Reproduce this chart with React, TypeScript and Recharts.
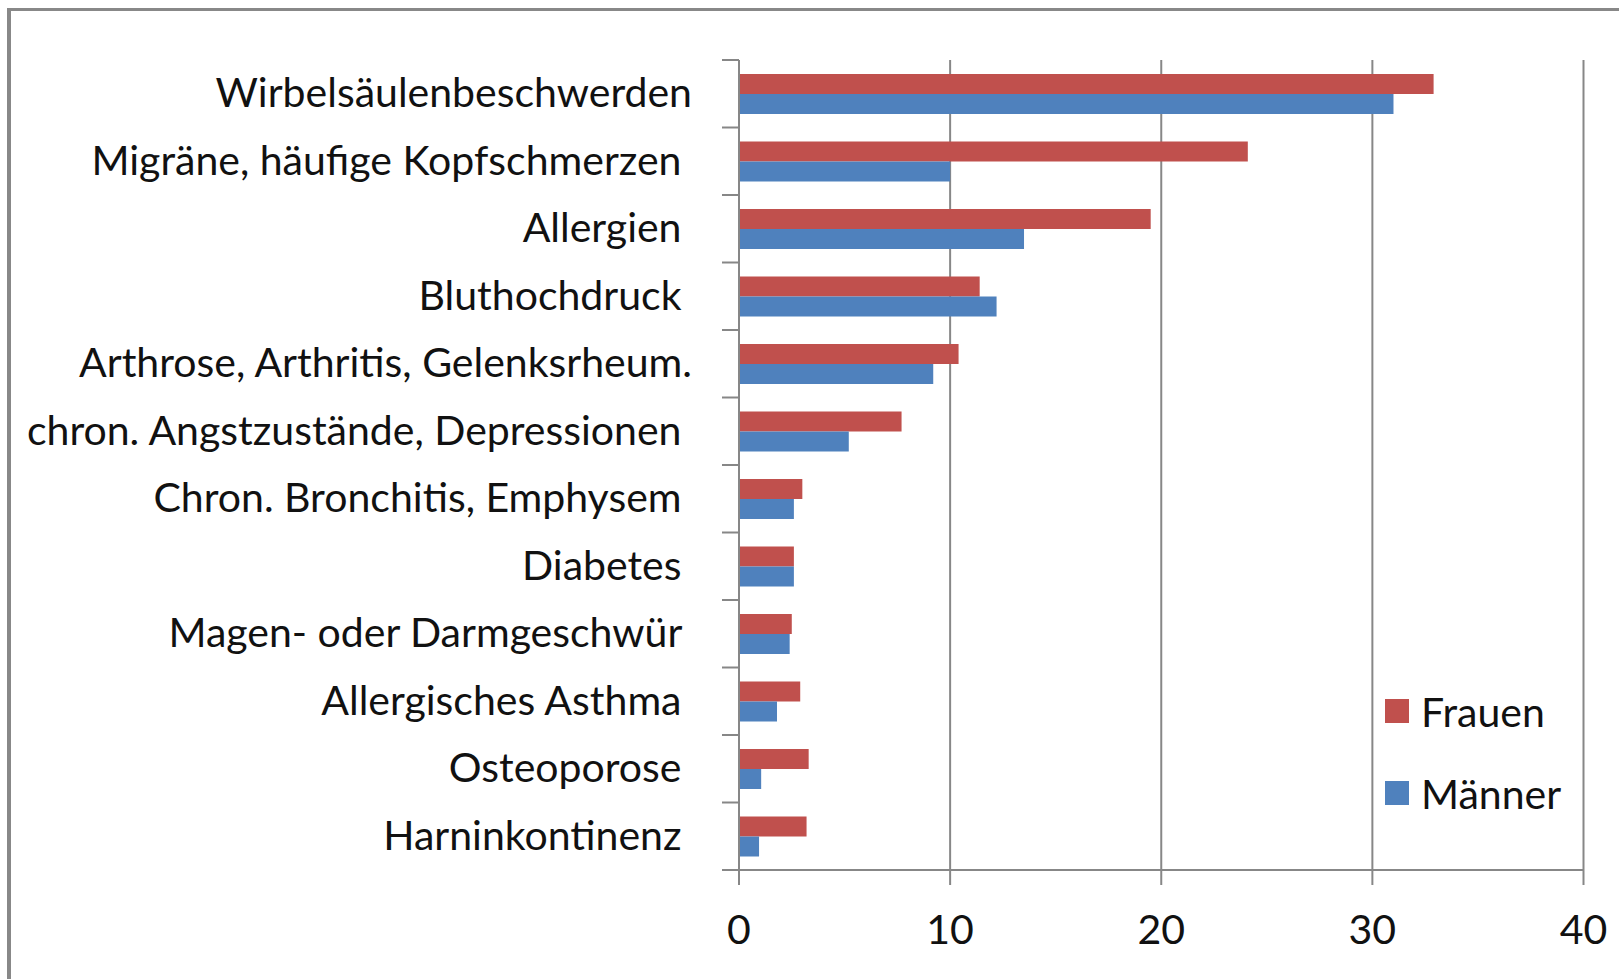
import { BarChart, Bar, XAxis, YAxis, CartesianGrid, Legend } from "recharts";

// trailing spaces are part of the original category labels
const categories = [
  "Wirbelsäulenbeschwerden",
  "Migräne, häufige Kopfschmerzen ",
  "Allergien ",
  "Bluthochdruck ",
  "Arthrose, Arthritis, Gelenksrheum.",
  "chron. Angstzustände, Depressionen ",
  "Chron. Bronchitis, Emphysem ",
  "Diabetes ",
  "Magen- oder Darmgeschwür ",
  "Allergisches Asthma ",
  "Osteoporose ",
  "Harninkontinenz ",
];
const frauen = [32.9, 24.1, 19.5, 11.4, 10.4, 7.7, 3.0, 2.6, 2.5, 2.9, 3.3, 3.2];
const maenner = [31.0, 10.0, 13.5, 12.2, 9.2, 5.2, 2.6, 2.6, 2.4, 1.8, 1.05, 0.95];
const xTicks = [0, 10, 20, 30, 40];

const data = categories.map((name, i) => ({
  name,
  Frauen: frauen[i],
  Männer: maenner[i],
}));

const W = 1619;
const H = 979;
const PLOT_TOP = 60;
const PLOT_BOTTOM = 870;
const PLOT_LEFT = 739;
const PLOT_RIGHT = 1583.5;
const BAND = (PLOT_BOTTOM - PLOT_TOP) / categories.length;
const GRID = "#878787";
const FONT = "Lato, 'Open Sans', sans-serif";
const FONT_SIZE = 41;
const TEXT = "#111";

const CategoryTick = (props: any) => {
  const { y, payload, index } = props;
  const top = y - BAND / 2;
  return (
    <g>
      <line x1={PLOT_LEFT - 17} x2={PLOT_LEFT} y1={top} y2={top} stroke={GRID} strokeWidth={2} />
      {index === categories.length - 1 && (
        <line x1={PLOT_LEFT - 17} x2={PLOT_LEFT} y1={top + BAND} y2={top + BAND} stroke={GRID} strokeWidth={2} />
      )}
      <text
        x={692}
        y={y - 2}
        textAnchor="end"
        dominantBaseline="central"
        fill={TEXT}
        fontFamily={FONT}
        fontSize={FONT_SIZE}
        style={{ whiteSpace: "pre" }}
      >
        {payload.value}
      </text>
    </g>
  );
};

const ValueTick = (props: any) => {
  const { x, payload } = props;
  return (
    <text
      x={x}
      y={PLOT_BOTTOM + 58}
      textAnchor="middle"
      dominantBaseline="central"
      fill={TEXT}
      fontFamily={FONT}
      fontSize={FONT_SIZE}
    >
      {payload.value}
    </text>
  );
};

const LegendContent = (props: any) => (
  <div style={{ fontFamily: FONT, fontSize: FONT_SIZE, color: TEXT }}>
    {(props.payload || []).map((p: any) => (
      <div key={p.value} style={{ display: "flex", alignItems: "center", height: 82 }}>
        <span style={{ display: "inline-block", width: 24, height: 24, background: p.color, marginRight: 12 }} />
        <span>{p.value}</span>
      </div>
    ))}
  </div>
);

export default function App() {
  return (
    <div style={{ position: "absolute", left: 0, top: 0, width: W, height: H, overflow: "hidden", background: "#fff" }}>
      <div
        style={{
          position: "absolute",
          left: 7,
          top: 8,
          width: 1800,
          height: 1200,
          borderTop: "3px solid #888",
          borderLeft: "4px solid #888",
        }}
      />
      <BarChart
        width={W}
        height={H}
        data={data}
        layout="vertical"
        margin={{ top: PLOT_TOP, right: W - PLOT_RIGHT, bottom: 0, left: 0 }}
        barCategoryGap={14}
        barGap={0}
      >
        <CartesianGrid horizontal={false} stroke={GRID} strokeWidth={2} />
        <XAxis
          type="number"
          domain={[0, 40]}
          ticks={xTicks}
          height={H - PLOT_BOTTOM}
          tickSize={15}
          tick={<ValueTick />}
          stroke={GRID}
          strokeWidth={2}
          interval={0}
        />
        <YAxis
          type="category"
          dataKey="name"
          width={PLOT_LEFT}
          tick={<CategoryTick />}
          tickLine={false}
          stroke={GRID}
          strokeWidth={2}
          interval={0}
        />
        <Legend
          layout="vertical"
          align="center"
          verticalAlign="middle"
          content={<LegendContent />}
          wrapperStyle={{ left: 1385, top: 670, width: 220, height: 164 }}
        />
        <Bar dataKey="Frauen" fill="#C0504D" isAnimationActive={false} />
        <Bar dataKey="Männer" fill="#4F81BD" isAnimationActive={false} />
      </BarChart>
    </div>
  );
}
